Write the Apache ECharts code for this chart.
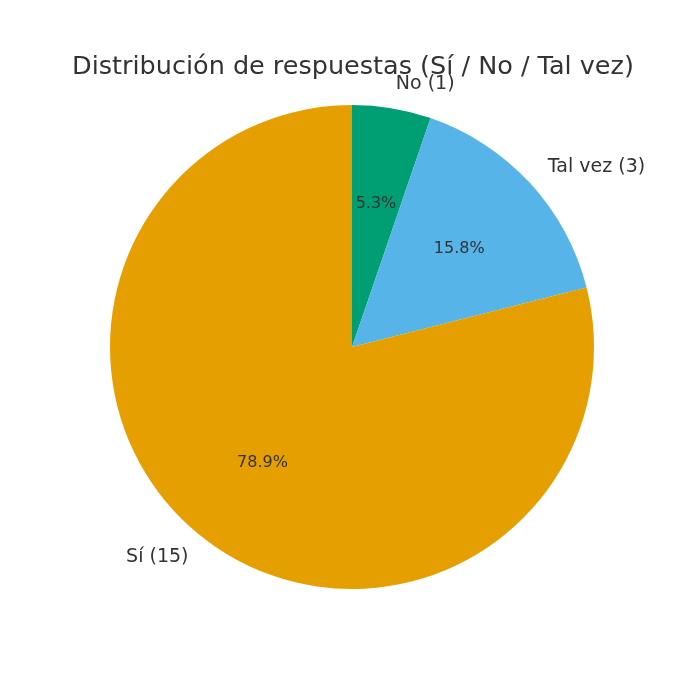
<!DOCTYPE html>
<html>
<head>
<meta charset="utf-8">
<title>Distribución de respuestas</title>
<script src="https://cdn.jsdelivr.net/npm/echarts@6/dist/echarts.min.js"></script>
<style>
  html, body { margin: 0; padding: 0; background: #fff; }
  #chart { width: 688px; height: 688px; }
</style>
</head>
<body>
<div id="chart"></div>
<script>
// datos de la encuesta
var categorias = ['No', 'Tal vez', 'Sí'];
var respuestas = [1, 3, 15];
var colores = ['#009E73', '#56B4E9', '#E69F00'];

var total = respuestas.reduce(function (a, b) { return a + b; }, 0);
var datos = categorias.map(function (c, i) {
  return { name: c, value: respuestas[i], itemStyle: { color: colores[i] } };
});

var chart = echarts.init(document.getElementById('chart'));
var R = 242;
chart.setOption({
  animation: false,
  title: {
    text: 'Distribución de respuestas (Sí / No / Tal vez)',
    left: 67,
    top: 49,
    textStyle: { fontFamily: 'DejaVu Sans', fontSize: 25.5, fontWeight: 'normal', color: '#333333' }
  },
  series: [
    {
      // sectores + etiquetas externas
      type: 'pie',
      center: [352, 347],
      radius: [0, R],
      startAngle: 90,
      clockwise: true,
      avoidLabelOverlap: false,
      silent: true,
      label: {
        show: true,
        position: 'outside',
        distanceToLabelLine: 0,
        fontFamily: 'DejaVu Sans',
        fontSize: 19,
        color: '#333333',
        formatter: function (p) { return p.name + ' (' + p.value + ')'; }
      },
      labelLine: { show: false, length: R * 0.1, length2: 0 },
      data: datos
    },
    {
      // porcentajes dentro (a 0.6 del radio)
      type: 'pie',
      center: [352, 348],
      radius: [R * 0.49, R * 0.69],
      startAngle: 90,
      clockwise: true,
      silent: true,
      itemStyle: { color: 'rgba(0,0,0,0)' },
      label: {
        show: true,
        position: 'inside',
        fontFamily: 'DejaVu Sans',
        fontSize: 16,
        color: '#333333',
        formatter: function (p) { return (p.value / total * 100).toFixed(1) + '%'; }
      },
      labelLine: { show: false },
      data: categorias.map(function (c, i) {
        return { name: c, value: respuestas[i], itemStyle: { color: 'rgba(0,0,0,0)' } };
      })
    }
  ]
});
</script>
</body>
</html>
